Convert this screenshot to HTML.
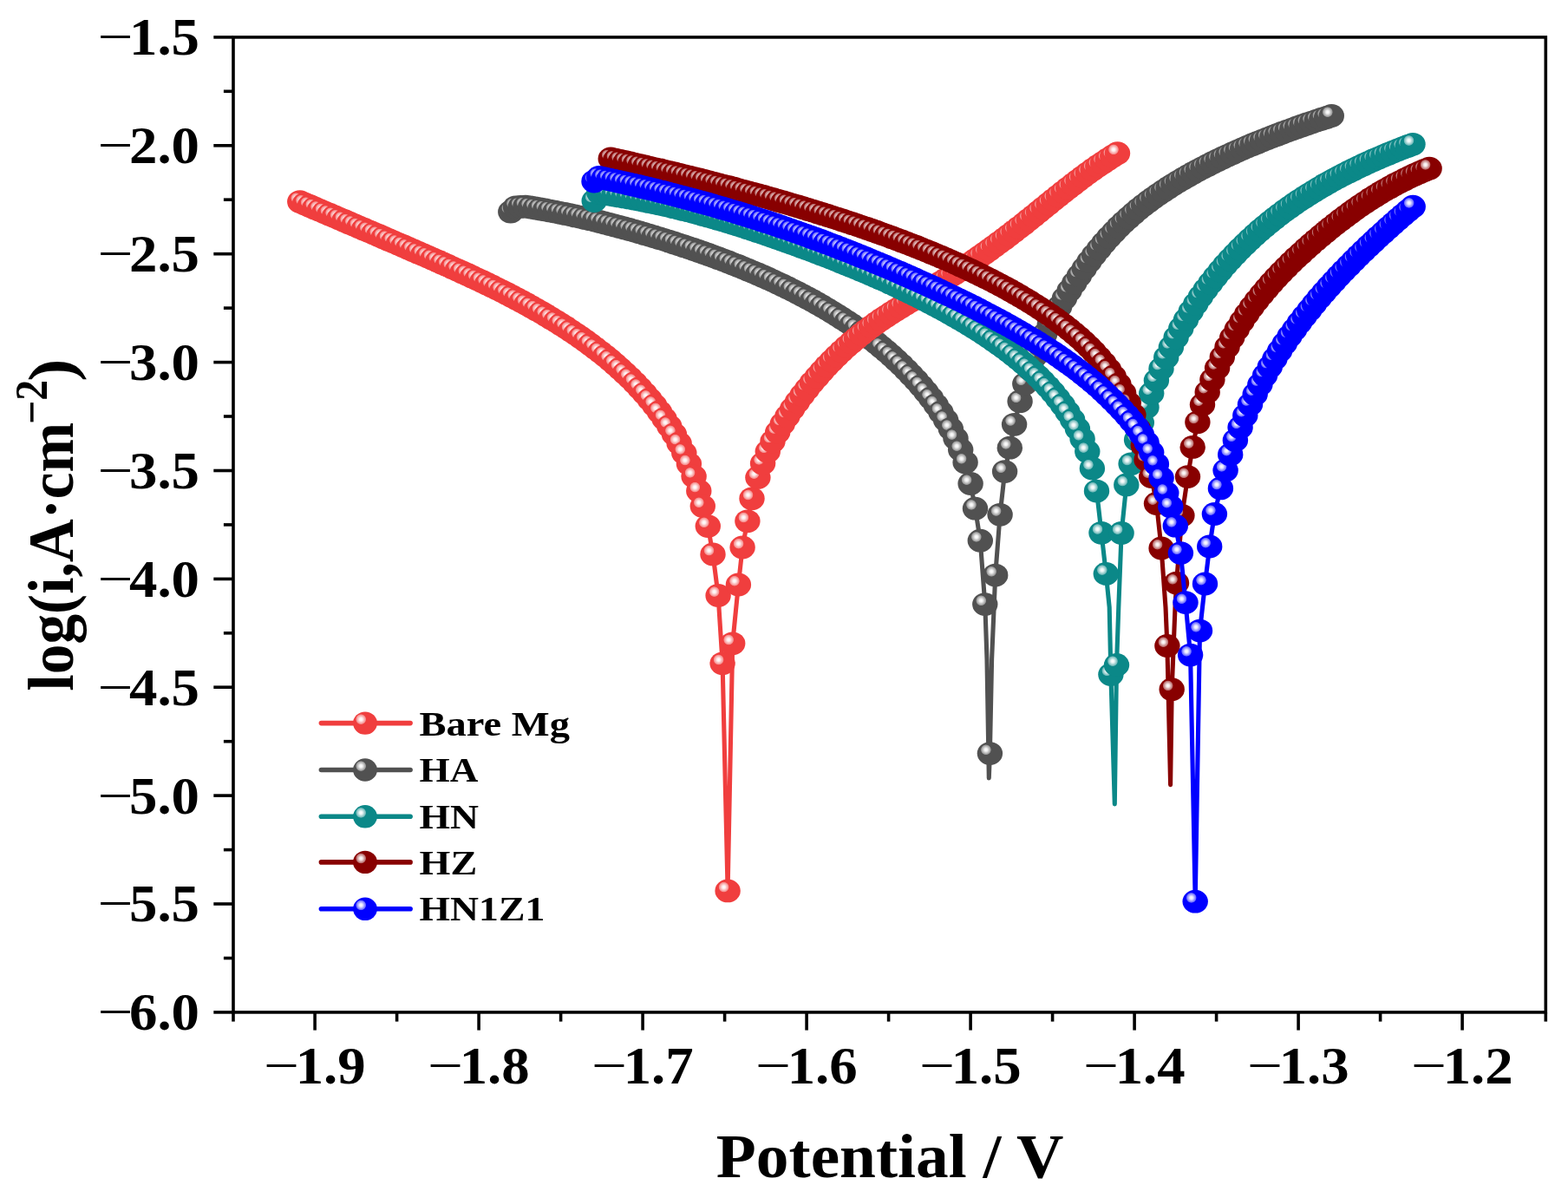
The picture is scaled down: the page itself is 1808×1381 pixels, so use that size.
<!DOCTYPE html>
<html lang="en"><head><meta charset="utf-8"><title>Potentiodynamic polarization curves</title>
<style>html,body{margin:0;padding:0;background:#fff;overflow:hidden}svg{display:block}text{font-family:"Liberation Serif","DejaVu Serif",serif;font-weight:bold;fill:#000}</style></head><body>
<svg width="1808" height="1381" viewBox="0 0 1808 1381">
<defs>
<radialGradient id="hl" cx="0.5" cy="0.5" r="0.5"><stop offset="0" stop-color="#fff" stop-opacity="1"/><stop offset="0.28" stop-color="#fff" stop-opacity="0.92"/><stop offset="0.58" stop-color="#fff" stop-opacity="0.66"/><stop offset="0.85" stop-color="#fff" stop-opacity="0.42"/><stop offset="1" stop-color="#fff" stop-opacity="0"/></radialGradient>
<g id="m_gray"><ellipse rx="14.7" ry="13.4" fill="#515151"/><circle cx="-4.5" cy="-4.3" r="6.2" fill="url(#hl)"/></g>
<g id="m_red"><ellipse rx="14.7" ry="13.4" fill="#f03e3e"/><circle cx="-4.5" cy="-4.3" r="6.2" fill="url(#hl)"/></g>
<g id="m_teal"><ellipse rx="14.7" ry="13.4" fill="#0b8888"/><circle cx="-4.5" cy="-4.3" r="6.2" fill="url(#hl)"/></g>
<g id="m_dred"><ellipse rx="14.7" ry="13.4" fill="#880000"/><circle cx="-4.5" cy="-4.3" r="6.2" fill="url(#hl)"/></g>
<g id="m_blue"><ellipse rx="14.7" ry="13.4" fill="#0000ff"/><circle cx="-4.5" cy="-4.3" r="6.2" fill="url(#hl)"/></g>
<g id="l_gray"><ellipse rx="13.9" ry="13.2" fill="#515151"/><circle cx="-4.8" cy="-4.4" r="6.2" fill="url(#hl)"/></g>
<g id="l_red"><ellipse rx="13.9" ry="13.2" fill="#f03e3e"/><circle cx="-4.8" cy="-4.4" r="6.2" fill="url(#hl)"/></g>
<g id="l_teal"><ellipse rx="13.9" ry="13.2" fill="#0b8888"/><circle cx="-4.8" cy="-4.4" r="6.2" fill="url(#hl)"/></g>
<g id="l_dred"><ellipse rx="13.9" ry="13.2" fill="#880000"/><circle cx="-4.8" cy="-4.4" r="6.2" fill="url(#hl)"/></g>
<g id="l_blue"><ellipse rx="13.9" ry="13.2" fill="#0000ff"/><circle cx="-4.8" cy="-4.4" r="6.2" fill="url(#hl)"/></g>
</defs>
<rect width="1808" height="1381" fill="#fff"/>
<g id="curve_gray">
<polyline fill="none" stroke="#515151" stroke-width="5.1" stroke-linejoin="round" stroke-linecap="round" points="588.8,244.2 594.5,238.8 600.2,238.4 605.9,238.1 611.6,239 617.3,240 623,241 628.7,242 634.4,243.1 640.1,244.2 645.8,245.3 651.5,246.4 657.2,247.6 662.9,248.9 668.6,250.1 674.3,251.4 680,252.7 685.7,254.1 691.4,255.5 697.1,256.9 702.8,258.4 708.5,259.9 714.2,261.4 719.9,262.9 725.6,264.5 731.3,266.1 737,267.7 742.7,269.4 748.5,271.1 754.2,272.8 759.9,274.6 765.6,276.3 771.3,278.1 777,279.9 782.7,281.8 788.4,283.7 794.1,285.6 799.8,287.5 805.5,289.5 811.2,291.5 816.9,293.5 822.6,295.6 828.3,297.7 834,299.8 839.7,302 845.4,304.3 851.1,306.5 856.8,308.8 862.5,311.2 868.2,313.6 873.9,316 879.6,318.5 885.3,321 891,323.6 896.7,326.3 902.4,329 908.1,331.7 913.8,334.6 919.5,337.5 925.2,340.4 930.9,343.4 936.6,346.5 942.3,349.7 948,353 953.7,356.3 959.4,359.8 965.1,363.3 970.8,366.9 976.5,370.6 982.2,374.5 987.9,378.4 993.6,382.5 999.3,386.7 1005,391.1 1010.7,395.6 1016.4,400.2 1022.1,405 1027.8,410 1033.5,415.2 1039.2,420.6 1044.9,426.3 1050.6,432.2 1056.3,438.3 1062,444.8 1067.8,451.7 1073.5,459 1079.2,466.8 1084.9,475.2 1090.6,484.3 1096.3,494.3 1102,505.4 1107.7,518.5 1113.1,533.1 1119.1,557.5 1124.5,586.2 1130.3,623.2 1135.8,696.6 1138,760 1140.3,897 1141.4,868.6 1143.6,760 1147.7,663.1 1153.1,593.3 1158.6,543.6 1164.3,516.2 1169.6,489.3 1176.1,462.7 1181.8,442.6 1187.5,425.5 1193.2,410.7 1198.9,397.4 1204.6,385.3 1210.3,374.1 1216,363.6 1221.7,353.6 1227.4,344.1 1233.1,335 1238.8,326.2 1244.5,317.7 1250.2,309.5 1255.9,301.6 1261.6,294.1 1267.3,286.9 1273,280.1 1278.7,273.6 1284.4,267.5 1290.1,261.6 1295.8,256.1 1301.5,250.9 1307.2,245.9 1312.9,241.1 1318.6,236.6 1324.3,232.2 1330,228.1 1335.7,224.1 1341.4,220.2 1347.1,216.5 1352.8,212.8 1358.5,209.3 1364.2,205.9 1369.9,202.7 1375.6,199.5 1381.4,196.3 1387.1,193.3 1392.8,190.4 1398.5,187.5 1404.2,184.7 1409.9,181.9 1415.6,179.3 1421.3,176.7 1427,174.1 1432.7,171.6 1438.4,169.1 1444.1,166.7 1449.8,164.4 1455.5,162.1 1461.2,159.8 1466.9,157.6 1472.6,155.4 1478.3,153.2 1484,151.1 1489.7,149.1 1495.4,147 1501.1,145 1506.8,143 1512.5,141.1 1518.2,139.1 1523.9,137.2 1529.6,135.4 1535.3,133.5"/>
<use href="#m_gray" x="588.8" y="244.2"/>
<use href="#m_gray" x="594.5" y="238.8"/>
<use href="#m_gray" x="600.2" y="238.4"/>
<use href="#m_gray" x="605.9" y="238.1"/>
<use href="#m_gray" x="611.6" y="239"/>
<use href="#m_gray" x="617.3" y="240"/>
<use href="#m_gray" x="623" y="241"/>
<use href="#m_gray" x="628.7" y="242"/>
<use href="#m_gray" x="634.4" y="243.1"/>
<use href="#m_gray" x="640.1" y="244.2"/>
<use href="#m_gray" x="645.8" y="245.3"/>
<use href="#m_gray" x="651.5" y="246.4"/>
<use href="#m_gray" x="657.2" y="247.6"/>
<use href="#m_gray" x="662.9" y="248.9"/>
<use href="#m_gray" x="668.6" y="250.1"/>
<use href="#m_gray" x="674.3" y="251.4"/>
<use href="#m_gray" x="680" y="252.7"/>
<use href="#m_gray" x="685.7" y="254.1"/>
<use href="#m_gray" x="691.4" y="255.5"/>
<use href="#m_gray" x="697.1" y="256.9"/>
<use href="#m_gray" x="702.8" y="258.4"/>
<use href="#m_gray" x="708.5" y="259.9"/>
<use href="#m_gray" x="714.2" y="261.4"/>
<use href="#m_gray" x="719.9" y="262.9"/>
<use href="#m_gray" x="725.6" y="264.5"/>
<use href="#m_gray" x="731.3" y="266.1"/>
<use href="#m_gray" x="737" y="267.7"/>
<use href="#m_gray" x="742.7" y="269.4"/>
<use href="#m_gray" x="748.5" y="271.1"/>
<use href="#m_gray" x="754.2" y="272.8"/>
<use href="#m_gray" x="759.9" y="274.6"/>
<use href="#m_gray" x="765.6" y="276.3"/>
<use href="#m_gray" x="771.3" y="278.1"/>
<use href="#m_gray" x="777" y="279.9"/>
<use href="#m_gray" x="782.7" y="281.8"/>
<use href="#m_gray" x="788.4" y="283.7"/>
<use href="#m_gray" x="794.1" y="285.6"/>
<use href="#m_gray" x="799.8" y="287.5"/>
<use href="#m_gray" x="805.5" y="289.5"/>
<use href="#m_gray" x="811.2" y="291.5"/>
<use href="#m_gray" x="816.9" y="293.5"/>
<use href="#m_gray" x="822.6" y="295.6"/>
<use href="#m_gray" x="828.3" y="297.7"/>
<use href="#m_gray" x="834" y="299.8"/>
<use href="#m_gray" x="839.7" y="302"/>
<use href="#m_gray" x="845.4" y="304.3"/>
<use href="#m_gray" x="851.1" y="306.5"/>
<use href="#m_gray" x="856.8" y="308.8"/>
<use href="#m_gray" x="862.5" y="311.2"/>
<use href="#m_gray" x="868.2" y="313.6"/>
<use href="#m_gray" x="873.9" y="316"/>
<use href="#m_gray" x="879.6" y="318.5"/>
<use href="#m_gray" x="885.3" y="321"/>
<use href="#m_gray" x="891" y="323.6"/>
<use href="#m_gray" x="896.7" y="326.3"/>
<use href="#m_gray" x="902.4" y="329"/>
<use href="#m_gray" x="908.1" y="331.7"/>
<use href="#m_gray" x="913.8" y="334.6"/>
<use href="#m_gray" x="919.5" y="337.5"/>
<use href="#m_gray" x="925.2" y="340.4"/>
<use href="#m_gray" x="930.9" y="343.4"/>
<use href="#m_gray" x="936.6" y="346.5"/>
<use href="#m_gray" x="942.3" y="349.7"/>
<use href="#m_gray" x="948" y="353"/>
<use href="#m_gray" x="953.7" y="356.3"/>
<use href="#m_gray" x="959.4" y="359.8"/>
<use href="#m_gray" x="965.1" y="363.3"/>
<use href="#m_gray" x="970.8" y="366.9"/>
<use href="#m_gray" x="976.5" y="370.6"/>
<use href="#m_gray" x="982.2" y="374.5"/>
<use href="#m_gray" x="987.9" y="378.4"/>
<use href="#m_gray" x="993.6" y="382.5"/>
<use href="#m_gray" x="999.3" y="386.7"/>
<use href="#m_gray" x="1005" y="391.1"/>
<use href="#m_gray" x="1010.7" y="395.6"/>
<use href="#m_gray" x="1016.4" y="400.2"/>
<use href="#m_gray" x="1022.1" y="405"/>
<use href="#m_gray" x="1027.8" y="410"/>
<use href="#m_gray" x="1033.5" y="415.2"/>
<use href="#m_gray" x="1039.2" y="420.6"/>
<use href="#m_gray" x="1044.9" y="426.3"/>
<use href="#m_gray" x="1050.6" y="432.2"/>
<use href="#m_gray" x="1056.3" y="438.3"/>
<use href="#m_gray" x="1062" y="444.8"/>
<use href="#m_gray" x="1067.8" y="451.7"/>
<use href="#m_gray" x="1073.5" y="459"/>
<use href="#m_gray" x="1079.2" y="466.8"/>
<use href="#m_gray" x="1084.9" y="475.2"/>
<use href="#m_gray" x="1090.6" y="484.3"/>
<use href="#m_gray" x="1096.3" y="494.3"/>
<use href="#m_gray" x="1102" y="505.4"/>
<use href="#m_gray" x="1107.7" y="518.5"/>
<use href="#m_gray" x="1113.1" y="533.1"/>
<use href="#m_gray" x="1119.1" y="557.5"/>
<use href="#m_gray" x="1124.5" y="586.2"/>
<use href="#m_gray" x="1130.3" y="623.2"/>
<use href="#m_gray" x="1135.8" y="696.6"/>
<use href="#m_gray" x="1141.4" y="868.6"/>
<use href="#m_gray" x="1147.7" y="663.1"/>
<use href="#m_gray" x="1153.1" y="593.3"/>
<use href="#m_gray" x="1158.6" y="543.6"/>
<use href="#m_gray" x="1164.3" y="516.2"/>
<use href="#m_gray" x="1169.6" y="489.3"/>
<use href="#m_gray" x="1176.1" y="462.7"/>
<use href="#m_gray" x="1181.8" y="442.6"/>
<use href="#m_gray" x="1187.5" y="425.5"/>
<use href="#m_gray" x="1193.2" y="410.7"/>
<use href="#m_gray" x="1198.9" y="397.4"/>
<use href="#m_gray" x="1204.6" y="385.3"/>
<use href="#m_gray" x="1210.3" y="374.1"/>
<use href="#m_gray" x="1216" y="363.6"/>
<use href="#m_gray" x="1221.7" y="353.6"/>
<use href="#m_gray" x="1227.4" y="344.1"/>
<use href="#m_gray" x="1233.1" y="335"/>
<use href="#m_gray" x="1238.8" y="326.2"/>
<use href="#m_gray" x="1244.5" y="317.7"/>
<use href="#m_gray" x="1250.2" y="309.5"/>
<use href="#m_gray" x="1255.9" y="301.6"/>
<use href="#m_gray" x="1261.6" y="294.1"/>
<use href="#m_gray" x="1267.3" y="286.9"/>
<use href="#m_gray" x="1273" y="280.1"/>
<use href="#m_gray" x="1278.7" y="273.6"/>
<use href="#m_gray" x="1284.4" y="267.5"/>
<use href="#m_gray" x="1290.1" y="261.6"/>
<use href="#m_gray" x="1295.8" y="256.1"/>
<use href="#m_gray" x="1301.5" y="250.9"/>
<use href="#m_gray" x="1307.2" y="245.9"/>
<use href="#m_gray" x="1312.9" y="241.1"/>
<use href="#m_gray" x="1318.6" y="236.6"/>
<use href="#m_gray" x="1324.3" y="232.2"/>
<use href="#m_gray" x="1330" y="228.1"/>
<use href="#m_gray" x="1335.7" y="224.1"/>
<use href="#m_gray" x="1341.4" y="220.2"/>
<use href="#m_gray" x="1347.1" y="216.5"/>
<use href="#m_gray" x="1352.8" y="212.8"/>
<use href="#m_gray" x="1358.5" y="209.3"/>
<use href="#m_gray" x="1364.2" y="205.9"/>
<use href="#m_gray" x="1369.9" y="202.7"/>
<use href="#m_gray" x="1375.6" y="199.5"/>
<use href="#m_gray" x="1381.4" y="196.3"/>
<use href="#m_gray" x="1387.1" y="193.3"/>
<use href="#m_gray" x="1392.8" y="190.4"/>
<use href="#m_gray" x="1398.5" y="187.5"/>
<use href="#m_gray" x="1404.2" y="184.7"/>
<use href="#m_gray" x="1409.9" y="181.9"/>
<use href="#m_gray" x="1415.6" y="179.3"/>
<use href="#m_gray" x="1421.3" y="176.7"/>
<use href="#m_gray" x="1427" y="174.1"/>
<use href="#m_gray" x="1432.7" y="171.6"/>
<use href="#m_gray" x="1438.4" y="169.1"/>
<use href="#m_gray" x="1444.1" y="166.7"/>
<use href="#m_gray" x="1449.8" y="164.4"/>
<use href="#m_gray" x="1455.5" y="162.1"/>
<use href="#m_gray" x="1461.2" y="159.8"/>
<use href="#m_gray" x="1466.9" y="157.6"/>
<use href="#m_gray" x="1472.6" y="155.4"/>
<use href="#m_gray" x="1478.3" y="153.2"/>
<use href="#m_gray" x="1484" y="151.1"/>
<use href="#m_gray" x="1489.7" y="149.1"/>
<use href="#m_gray" x="1495.4" y="147"/>
<use href="#m_gray" x="1501.1" y="145"/>
<use href="#m_gray" x="1506.8" y="143"/>
<use href="#m_gray" x="1512.5" y="141.1"/>
<use href="#m_gray" x="1518.2" y="139.1"/>
<use href="#m_gray" x="1523.9" y="137.2"/>
<use href="#m_gray" x="1529.6" y="135.4"/>
<use href="#m_gray" x="1535.3" y="133.5"/>
</g>
<g id="curve_red">
<polyline fill="none" stroke="#f03e3e" stroke-width="5.1" stroke-linejoin="round" stroke-linecap="round" points="345.8,232.6 351.5,235.1 357.2,237.5 362.8,239.9 368.5,242.3 374.2,244.8 379.9,247.2 385.6,249.6 391.2,252.1 396.9,254.5 402.6,256.9 408.3,259.3 413.9,261.8 419.6,264.2 425.3,266.6 431,269.1 436.7,271.5 442.3,273.9 448,276.4 453.7,278.8 459.4,281.3 465.1,283.7 470.7,286.2 476.4,288.7 482.1,291.2 487.8,293.6 493.5,296.1 499.1,298.6 504.8,301.1 510.5,303.7 516.2,306.2 521.8,308.8 527.5,311.3 533.2,313.9 538.9,316.5 544.6,319.2 550.2,321.8 555.9,324.5 561.6,327.2 567.3,330 573,332.8 578.6,335.6 584.3,338.5 590,341.4 595.7,344.4 601.4,347.4 607,350.5 612.7,353.7 618.4,356.9 624.1,360.1 629.7,363.5 635.4,366.9 641.1,370.3 646.8,373.9 652.5,377.5 658.1,381.3 663.8,385.1 669.5,389 675.2,393 680.9,397.2 686.5,401.4 692.2,405.8 697.9,410.3 703.6,415 709.3,419.9 714.9,424.9 720.6,430.2 726.3,435.6 732,441.3 737.6,447.3 743.3,453.6 749,460.2 754.7,467.2 760.4,474.7 766,482.7 771.7,491.3 777.4,500.6 783.1,510.9 788.8,522.2 794.4,534.8 800.1,549.2 805.8,565.9 810.3,583.6 816.3,606.6 822,638.9 828.1,686.4 833.1,764.8 839.1,1026.9 844.7,741.8 851.4,674 856.1,631 861.9,600.8 867,574.8 873.9,550.5 879.6,534.2 885.3,520.6 891,508.8 896.7,498.3 902.3,488.6 908,479.7 913.7,471.3 919.4,463.2 925,455.5 930.7,448.2 936.4,441.1 942.1,434.4 947.8,428 953.4,421.8 959.1,415.9 964.8,410.3 970.5,404.8 976.2,399.6 981.8,394.7 987.5,389.9 993.2,385.3 998.9,380.8 1004.6,376.6 1010.2,372.5 1015.9,368.5 1021.6,364.7 1027.3,361 1032.9,357.4 1038.6,353.9 1044.3,350.4 1050,346.9 1055.7,343.5 1061.3,340 1067,336.6 1072.7,333.1 1078.4,329.6 1084.1,326 1089.7,322.5 1095.4,318.8 1101.1,315.2 1106.8,311.4 1112.5,307.7 1118.1,303.8 1123.8,299.9 1129.5,296 1135.2,292 1140.8,287.9 1146.5,283.8 1152.2,279.6 1157.9,275.4 1163.6,271.1 1169.2,266.8 1174.9,262.3 1180.6,257.9 1186.3,253.3 1192,248.8 1197.6,244.2 1203.3,239.6 1209,234.9 1214.7,230.3 1220.4,225.8 1226,221.3 1231.7,216.8 1237.4,212.4 1243.1,208.1 1248.7,203.8 1254.4,199.6 1260.1,195.5 1265.8,191.5 1271.5,187.7 1277.1,183.9 1282.8,180.2 1288.5,176.7"/>
<use href="#m_red" x="345.8" y="232.6"/>
<use href="#m_red" x="351.5" y="235.1"/>
<use href="#m_red" x="357.2" y="237.5"/>
<use href="#m_red" x="362.8" y="239.9"/>
<use href="#m_red" x="368.5" y="242.3"/>
<use href="#m_red" x="374.2" y="244.8"/>
<use href="#m_red" x="379.9" y="247.2"/>
<use href="#m_red" x="385.6" y="249.6"/>
<use href="#m_red" x="391.2" y="252.1"/>
<use href="#m_red" x="396.9" y="254.5"/>
<use href="#m_red" x="402.6" y="256.9"/>
<use href="#m_red" x="408.3" y="259.3"/>
<use href="#m_red" x="413.9" y="261.8"/>
<use href="#m_red" x="419.6" y="264.2"/>
<use href="#m_red" x="425.3" y="266.6"/>
<use href="#m_red" x="431" y="269.1"/>
<use href="#m_red" x="436.7" y="271.5"/>
<use href="#m_red" x="442.3" y="273.9"/>
<use href="#m_red" x="448" y="276.4"/>
<use href="#m_red" x="453.7" y="278.8"/>
<use href="#m_red" x="459.4" y="281.3"/>
<use href="#m_red" x="465.1" y="283.7"/>
<use href="#m_red" x="470.7" y="286.2"/>
<use href="#m_red" x="476.4" y="288.7"/>
<use href="#m_red" x="482.1" y="291.2"/>
<use href="#m_red" x="487.8" y="293.6"/>
<use href="#m_red" x="493.5" y="296.1"/>
<use href="#m_red" x="499.1" y="298.6"/>
<use href="#m_red" x="504.8" y="301.1"/>
<use href="#m_red" x="510.5" y="303.7"/>
<use href="#m_red" x="516.2" y="306.2"/>
<use href="#m_red" x="521.8" y="308.8"/>
<use href="#m_red" x="527.5" y="311.3"/>
<use href="#m_red" x="533.2" y="313.9"/>
<use href="#m_red" x="538.9" y="316.5"/>
<use href="#m_red" x="544.6" y="319.2"/>
<use href="#m_red" x="550.2" y="321.8"/>
<use href="#m_red" x="555.9" y="324.5"/>
<use href="#m_red" x="561.6" y="327.2"/>
<use href="#m_red" x="567.3" y="330"/>
<use href="#m_red" x="573" y="332.8"/>
<use href="#m_red" x="578.6" y="335.6"/>
<use href="#m_red" x="584.3" y="338.5"/>
<use href="#m_red" x="590" y="341.4"/>
<use href="#m_red" x="595.7" y="344.4"/>
<use href="#m_red" x="601.4" y="347.4"/>
<use href="#m_red" x="607" y="350.5"/>
<use href="#m_red" x="612.7" y="353.7"/>
<use href="#m_red" x="618.4" y="356.9"/>
<use href="#m_red" x="624.1" y="360.1"/>
<use href="#m_red" x="629.7" y="363.5"/>
<use href="#m_red" x="635.4" y="366.9"/>
<use href="#m_red" x="641.1" y="370.3"/>
<use href="#m_red" x="646.8" y="373.9"/>
<use href="#m_red" x="652.5" y="377.5"/>
<use href="#m_red" x="658.1" y="381.3"/>
<use href="#m_red" x="663.8" y="385.1"/>
<use href="#m_red" x="669.5" y="389"/>
<use href="#m_red" x="675.2" y="393"/>
<use href="#m_red" x="680.9" y="397.2"/>
<use href="#m_red" x="686.5" y="401.4"/>
<use href="#m_red" x="692.2" y="405.8"/>
<use href="#m_red" x="697.9" y="410.3"/>
<use href="#m_red" x="703.6" y="415"/>
<use href="#m_red" x="709.3" y="419.9"/>
<use href="#m_red" x="714.9" y="424.9"/>
<use href="#m_red" x="720.6" y="430.2"/>
<use href="#m_red" x="726.3" y="435.6"/>
<use href="#m_red" x="732" y="441.3"/>
<use href="#m_red" x="737.6" y="447.3"/>
<use href="#m_red" x="743.3" y="453.6"/>
<use href="#m_red" x="749" y="460.2"/>
<use href="#m_red" x="754.7" y="467.2"/>
<use href="#m_red" x="760.4" y="474.7"/>
<use href="#m_red" x="766" y="482.7"/>
<use href="#m_red" x="771.7" y="491.3"/>
<use href="#m_red" x="777.4" y="500.6"/>
<use href="#m_red" x="783.1" y="510.9"/>
<use href="#m_red" x="788.8" y="522.2"/>
<use href="#m_red" x="794.4" y="534.8"/>
<use href="#m_red" x="800.1" y="549.2"/>
<use href="#m_red" x="805.8" y="565.9"/>
<use href="#m_red" x="810.3" y="583.6"/>
<use href="#m_red" x="816.3" y="606.6"/>
<use href="#m_red" x="822" y="638.9"/>
<use href="#m_red" x="828.1" y="686.4"/>
<use href="#m_red" x="833.1" y="764.8"/>
<use href="#m_red" x="839.1" y="1026.9"/>
<use href="#m_red" x="844.7" y="741.8"/>
<use href="#m_red" x="851.4" y="674"/>
<use href="#m_red" x="856.1" y="631"/>
<use href="#m_red" x="861.9" y="600.8"/>
<use href="#m_red" x="867" y="574.8"/>
<use href="#m_red" x="873.9" y="550.5"/>
<use href="#m_red" x="879.6" y="534.2"/>
<use href="#m_red" x="885.3" y="520.6"/>
<use href="#m_red" x="891" y="508.8"/>
<use href="#m_red" x="896.7" y="498.3"/>
<use href="#m_red" x="902.3" y="488.6"/>
<use href="#m_red" x="908" y="479.7"/>
<use href="#m_red" x="913.7" y="471.3"/>
<use href="#m_red" x="919.4" y="463.2"/>
<use href="#m_red" x="925" y="455.5"/>
<use href="#m_red" x="930.7" y="448.2"/>
<use href="#m_red" x="936.4" y="441.1"/>
<use href="#m_red" x="942.1" y="434.4"/>
<use href="#m_red" x="947.8" y="428"/>
<use href="#m_red" x="953.4" y="421.8"/>
<use href="#m_red" x="959.1" y="415.9"/>
<use href="#m_red" x="964.8" y="410.3"/>
<use href="#m_red" x="970.5" y="404.8"/>
<use href="#m_red" x="976.2" y="399.6"/>
<use href="#m_red" x="981.8" y="394.7"/>
<use href="#m_red" x="987.5" y="389.9"/>
<use href="#m_red" x="993.2" y="385.3"/>
<use href="#m_red" x="998.9" y="380.8"/>
<use href="#m_red" x="1004.6" y="376.6"/>
<use href="#m_red" x="1010.2" y="372.5"/>
<use href="#m_red" x="1015.9" y="368.5"/>
<use href="#m_red" x="1021.6" y="364.7"/>
<use href="#m_red" x="1027.3" y="361"/>
<use href="#m_red" x="1032.9" y="357.4"/>
<use href="#m_red" x="1038.6" y="353.9"/>
<use href="#m_red" x="1044.3" y="350.4"/>
<use href="#m_red" x="1050" y="346.9"/>
<use href="#m_red" x="1055.7" y="343.5"/>
<use href="#m_red" x="1061.3" y="340"/>
<use href="#m_red" x="1067" y="336.6"/>
<use href="#m_red" x="1072.7" y="333.1"/>
<use href="#m_red" x="1078.4" y="329.6"/>
<use href="#m_red" x="1084.1" y="326"/>
<use href="#m_red" x="1089.7" y="322.5"/>
<use href="#m_red" x="1095.4" y="318.8"/>
<use href="#m_red" x="1101.1" y="315.2"/>
<use href="#m_red" x="1106.8" y="311.4"/>
<use href="#m_red" x="1112.5" y="307.7"/>
<use href="#m_red" x="1118.1" y="303.8"/>
<use href="#m_red" x="1123.8" y="299.9"/>
<use href="#m_red" x="1129.5" y="296"/>
<use href="#m_red" x="1135.2" y="292"/>
<use href="#m_red" x="1140.8" y="287.9"/>
<use href="#m_red" x="1146.5" y="283.8"/>
<use href="#m_red" x="1152.2" y="279.6"/>
<use href="#m_red" x="1157.9" y="275.4"/>
<use href="#m_red" x="1163.6" y="271.1"/>
<use href="#m_red" x="1169.2" y="266.8"/>
<use href="#m_red" x="1174.9" y="262.3"/>
<use href="#m_red" x="1180.6" y="257.9"/>
<use href="#m_red" x="1186.3" y="253.3"/>
<use href="#m_red" x="1192" y="248.8"/>
<use href="#m_red" x="1197.6" y="244.2"/>
<use href="#m_red" x="1203.3" y="239.6"/>
<use href="#m_red" x="1209" y="234.9"/>
<use href="#m_red" x="1214.7" y="230.3"/>
<use href="#m_red" x="1220.4" y="225.8"/>
<use href="#m_red" x="1226" y="221.3"/>
<use href="#m_red" x="1231.7" y="216.8"/>
<use href="#m_red" x="1237.4" y="212.4"/>
<use href="#m_red" x="1243.1" y="208.1"/>
<use href="#m_red" x="1248.7" y="203.8"/>
<use href="#m_red" x="1254.4" y="199.6"/>
<use href="#m_red" x="1260.1" y="195.5"/>
<use href="#m_red" x="1265.8" y="191.5"/>
<use href="#m_red" x="1271.5" y="187.7"/>
<use href="#m_red" x="1277.1" y="183.9"/>
<use href="#m_red" x="1282.8" y="180.2"/>
<use href="#m_red" x="1288.5" y="176.7"/>
</g>
<g id="curve_teal">
<polyline fill="none" stroke="#0b8888" stroke-width="5.1" stroke-linejoin="round" stroke-linecap="round" points="685.2,231.5 690.9,222.3 696.6,223.2 702.3,224.1 707.9,225 713.6,225.9 719.3,226.9 725,227.9 730.7,229 736.4,230.1 742.1,231.2 747.7,232.4 753.4,233.5 759.1,234.8 764.8,236 770.5,237.3 776.2,238.7 781.9,240 787.5,241.4 793.2,242.8 798.9,244.3 804.6,245.8 810.3,247.4 816,248.9 821.7,250.5 827.3,252.2 833,253.8 838.7,255.5 844.4,257.3 850.1,259 855.8,260.8 861.5,262.7 867.1,264.5 872.8,266.4 878.5,268.3 884.2,270.2 889.9,272.2 895.6,274.2 901.3,276.2 906.9,278.2 912.6,280.2 918.3,282.3 924,284.4 929.7,286.5 935.4,288.6 941,290.8 946.7,292.9 952.4,295.1 958.1,297.3 963.8,299.6 969.5,301.9 975.2,304.2 980.8,306.5 986.5,308.8 992.2,311.2 997.9,313.6 1003.6,316.1 1009.3,318.6 1015,321.1 1020.6,323.6 1026.3,326.2 1032,328.8 1037.7,331.5 1043.4,334.2 1049.1,337 1054.8,339.7 1060.4,342.6 1066.1,345.5 1071.8,348.4 1077.5,351.4 1083.2,354.4 1088.9,357.5 1094.6,360.7 1100.2,363.9 1105.9,367.2 1111.6,370.5 1117.3,374 1123,377.5 1128.7,381.1 1134.4,384.8 1140,388.5 1145.7,392.4 1151.4,396.4 1157.1,400.5 1162.8,404.8 1168.5,409.2 1174.2,413.7 1179.8,418.5 1185.5,423.4 1191.2,428.6 1196.9,434 1202.6,439.7 1208.3,445.8 1214,452.2 1219.6,459.2 1225.3,466.7 1231,474.9 1236.7,484 1242.4,494.2 1248.1,506.1 1253.8,520.4 1259.4,540 1264.5,566.1 1270,614.3 1275.3,661.4 1279.2,700 1280.9,777.6 1285.3,926.9 1287.5,766.5 1289.8,700 1293.1,614.5 1298.8,558.9 1304.1,534.8 1310.6,507.1 1316.3,487.3 1322,469.6 1327.7,453.5 1333.4,438.6 1339,424.9 1344.7,412.1 1350.4,400.2 1356.1,389 1361.8,378.4 1367.5,368.5 1373.2,359.1 1378.8,350.2 1384.5,341.8 1390.2,333.8 1395.9,326.2 1401.6,318.9 1407.3,312 1412.9,305.3 1418.6,299 1424.3,292.9 1430,287 1435.7,281.4 1441.4,276 1447.1,270.7 1452.7,265.7 1458.4,260.9 1464.1,256.2 1469.8,251.7 1475.5,247.3 1481.2,243 1486.9,239 1492.5,235 1498.2,231.1 1503.9,227.4 1509.6,223.8 1515.3,220.3 1521,216.8 1526.7,213.5 1532.3,210.3 1538,207.1 1543.7,204.1 1549.4,201.1 1555.1,198.2 1560.8,195.4 1566.5,192.6 1572.1,189.9 1577.8,187.3 1583.5,184.7 1589.2,182.3 1594.9,179.8 1600.6,177.4 1606.3,175.1 1611.9,172.8 1617.6,170.6 1623.3,168.4 1629,166.3"/>
<use href="#m_teal" x="685.2" y="231.5"/>
<use href="#m_teal" x="690.9" y="222.3"/>
<use href="#m_teal" x="696.6" y="223.2"/>
<use href="#m_teal" x="702.3" y="224.1"/>
<use href="#m_teal" x="707.9" y="225"/>
<use href="#m_teal" x="713.6" y="225.9"/>
<use href="#m_teal" x="719.3" y="226.9"/>
<use href="#m_teal" x="725" y="227.9"/>
<use href="#m_teal" x="730.7" y="229"/>
<use href="#m_teal" x="736.4" y="230.1"/>
<use href="#m_teal" x="742.1" y="231.2"/>
<use href="#m_teal" x="747.7" y="232.4"/>
<use href="#m_teal" x="753.4" y="233.5"/>
<use href="#m_teal" x="759.1" y="234.8"/>
<use href="#m_teal" x="764.8" y="236"/>
<use href="#m_teal" x="770.5" y="237.3"/>
<use href="#m_teal" x="776.2" y="238.7"/>
<use href="#m_teal" x="781.9" y="240"/>
<use href="#m_teal" x="787.5" y="241.4"/>
<use href="#m_teal" x="793.2" y="242.8"/>
<use href="#m_teal" x="798.9" y="244.3"/>
<use href="#m_teal" x="804.6" y="245.8"/>
<use href="#m_teal" x="810.3" y="247.4"/>
<use href="#m_teal" x="816" y="248.9"/>
<use href="#m_teal" x="821.7" y="250.5"/>
<use href="#m_teal" x="827.3" y="252.2"/>
<use href="#m_teal" x="833" y="253.8"/>
<use href="#m_teal" x="838.7" y="255.5"/>
<use href="#m_teal" x="844.4" y="257.3"/>
<use href="#m_teal" x="850.1" y="259"/>
<use href="#m_teal" x="855.8" y="260.8"/>
<use href="#m_teal" x="861.5" y="262.7"/>
<use href="#m_teal" x="867.1" y="264.5"/>
<use href="#m_teal" x="872.8" y="266.4"/>
<use href="#m_teal" x="878.5" y="268.3"/>
<use href="#m_teal" x="884.2" y="270.2"/>
<use href="#m_teal" x="889.9" y="272.2"/>
<use href="#m_teal" x="895.6" y="274.2"/>
<use href="#m_teal" x="901.3" y="276.2"/>
<use href="#m_teal" x="906.9" y="278.2"/>
<use href="#m_teal" x="912.6" y="280.2"/>
<use href="#m_teal" x="918.3" y="282.3"/>
<use href="#m_teal" x="924" y="284.4"/>
<use href="#m_teal" x="929.7" y="286.5"/>
<use href="#m_teal" x="935.4" y="288.6"/>
<use href="#m_teal" x="941" y="290.8"/>
<use href="#m_teal" x="946.7" y="292.9"/>
<use href="#m_teal" x="952.4" y="295.1"/>
<use href="#m_teal" x="958.1" y="297.3"/>
<use href="#m_teal" x="963.8" y="299.6"/>
<use href="#m_teal" x="969.5" y="301.9"/>
<use href="#m_teal" x="975.2" y="304.2"/>
<use href="#m_teal" x="980.8" y="306.5"/>
<use href="#m_teal" x="986.5" y="308.8"/>
<use href="#m_teal" x="992.2" y="311.2"/>
<use href="#m_teal" x="997.9" y="313.6"/>
<use href="#m_teal" x="1003.6" y="316.1"/>
<use href="#m_teal" x="1009.3" y="318.6"/>
<use href="#m_teal" x="1015" y="321.1"/>
<use href="#m_teal" x="1020.6" y="323.6"/>
<use href="#m_teal" x="1026.3" y="326.2"/>
<use href="#m_teal" x="1032" y="328.8"/>
<use href="#m_teal" x="1037.7" y="331.5"/>
<use href="#m_teal" x="1043.4" y="334.2"/>
<use href="#m_teal" x="1049.1" y="337"/>
<use href="#m_teal" x="1054.8" y="339.7"/>
<use href="#m_teal" x="1060.4" y="342.6"/>
<use href="#m_teal" x="1066.1" y="345.5"/>
<use href="#m_teal" x="1071.8" y="348.4"/>
<use href="#m_teal" x="1077.5" y="351.4"/>
<use href="#m_teal" x="1083.2" y="354.4"/>
<use href="#m_teal" x="1088.9" y="357.5"/>
<use href="#m_teal" x="1094.6" y="360.7"/>
<use href="#m_teal" x="1100.2" y="363.9"/>
<use href="#m_teal" x="1105.9" y="367.2"/>
<use href="#m_teal" x="1111.6" y="370.5"/>
<use href="#m_teal" x="1117.3" y="374"/>
<use href="#m_teal" x="1123" y="377.5"/>
<use href="#m_teal" x="1128.7" y="381.1"/>
<use href="#m_teal" x="1134.4" y="384.8"/>
<use href="#m_teal" x="1140" y="388.5"/>
<use href="#m_teal" x="1145.7" y="392.4"/>
<use href="#m_teal" x="1151.4" y="396.4"/>
<use href="#m_teal" x="1157.1" y="400.5"/>
<use href="#m_teal" x="1162.8" y="404.8"/>
<use href="#m_teal" x="1168.5" y="409.2"/>
<use href="#m_teal" x="1174.2" y="413.7"/>
<use href="#m_teal" x="1179.8" y="418.5"/>
<use href="#m_teal" x="1185.5" y="423.4"/>
<use href="#m_teal" x="1191.2" y="428.6"/>
<use href="#m_teal" x="1196.9" y="434"/>
<use href="#m_teal" x="1202.6" y="439.7"/>
<use href="#m_teal" x="1208.3" y="445.8"/>
<use href="#m_teal" x="1214" y="452.2"/>
<use href="#m_teal" x="1219.6" y="459.2"/>
<use href="#m_teal" x="1225.3" y="466.7"/>
<use href="#m_teal" x="1231" y="474.9"/>
<use href="#m_teal" x="1236.7" y="484"/>
<use href="#m_teal" x="1242.4" y="494.2"/>
<use href="#m_teal" x="1248.1" y="506.1"/>
<use href="#m_teal" x="1253.8" y="520.4"/>
<use href="#m_teal" x="1259.4" y="540"/>
<use href="#m_teal" x="1264.5" y="566.1"/>
<use href="#m_teal" x="1270" y="614.3"/>
<use href="#m_teal" x="1275.3" y="661.4"/>
<use href="#m_teal" x="1280.9" y="777.6"/>
<use href="#m_teal" x="1287.5" y="766.5"/>
<use href="#m_teal" x="1293.1" y="614.5"/>
<use href="#m_teal" x="1298.8" y="558.9"/>
<use href="#m_teal" x="1304.1" y="534.8"/>
<use href="#m_teal" x="1310.6" y="507.1"/>
<use href="#m_teal" x="1316.3" y="487.3"/>
<use href="#m_teal" x="1322" y="469.6"/>
<use href="#m_teal" x="1327.7" y="453.5"/>
<use href="#m_teal" x="1333.4" y="438.6"/>
<use href="#m_teal" x="1339" y="424.9"/>
<use href="#m_teal" x="1344.7" y="412.1"/>
<use href="#m_teal" x="1350.4" y="400.2"/>
<use href="#m_teal" x="1356.1" y="389"/>
<use href="#m_teal" x="1361.8" y="378.4"/>
<use href="#m_teal" x="1367.5" y="368.5"/>
<use href="#m_teal" x="1373.2" y="359.1"/>
<use href="#m_teal" x="1378.8" y="350.2"/>
<use href="#m_teal" x="1384.5" y="341.8"/>
<use href="#m_teal" x="1390.2" y="333.8"/>
<use href="#m_teal" x="1395.9" y="326.2"/>
<use href="#m_teal" x="1401.6" y="318.9"/>
<use href="#m_teal" x="1407.3" y="312"/>
<use href="#m_teal" x="1412.9" y="305.3"/>
<use href="#m_teal" x="1418.6" y="299"/>
<use href="#m_teal" x="1424.3" y="292.9"/>
<use href="#m_teal" x="1430" y="287"/>
<use href="#m_teal" x="1435.7" y="281.4"/>
<use href="#m_teal" x="1441.4" y="276"/>
<use href="#m_teal" x="1447.1" y="270.7"/>
<use href="#m_teal" x="1452.7" y="265.7"/>
<use href="#m_teal" x="1458.4" y="260.9"/>
<use href="#m_teal" x="1464.1" y="256.2"/>
<use href="#m_teal" x="1469.8" y="251.7"/>
<use href="#m_teal" x="1475.5" y="247.3"/>
<use href="#m_teal" x="1481.2" y="243"/>
<use href="#m_teal" x="1486.9" y="239"/>
<use href="#m_teal" x="1492.5" y="235"/>
<use href="#m_teal" x="1498.2" y="231.1"/>
<use href="#m_teal" x="1503.9" y="227.4"/>
<use href="#m_teal" x="1509.6" y="223.8"/>
<use href="#m_teal" x="1515.3" y="220.3"/>
<use href="#m_teal" x="1521" y="216.8"/>
<use href="#m_teal" x="1526.7" y="213.5"/>
<use href="#m_teal" x="1532.3" y="210.3"/>
<use href="#m_teal" x="1538" y="207.1"/>
<use href="#m_teal" x="1543.7" y="204.1"/>
<use href="#m_teal" x="1549.4" y="201.1"/>
<use href="#m_teal" x="1555.1" y="198.2"/>
<use href="#m_teal" x="1560.8" y="195.4"/>
<use href="#m_teal" x="1566.5" y="192.6"/>
<use href="#m_teal" x="1572.1" y="189.9"/>
<use href="#m_teal" x="1577.8" y="187.3"/>
<use href="#m_teal" x="1583.5" y="184.7"/>
<use href="#m_teal" x="1589.2" y="182.3"/>
<use href="#m_teal" x="1594.9" y="179.8"/>
<use href="#m_teal" x="1600.6" y="177.4"/>
<use href="#m_teal" x="1606.3" y="175.1"/>
<use href="#m_teal" x="1611.9" y="172.8"/>
<use href="#m_teal" x="1617.6" y="170.6"/>
<use href="#m_teal" x="1623.3" y="168.4"/>
<use href="#m_teal" x="1629" y="166.3"/>
</g>
<g id="curve_dred">
<polyline fill="none" stroke="#880000" stroke-width="5.1" stroke-linejoin="round" stroke-linecap="round" points="704.2,182.9 709.9,184.2 715.6,185.5 721.3,186.7 726.9,188 732.6,189.3 738.3,190.6 744,191.9 749.7,193.3 755.4,194.6 761.1,195.9 766.7,197.3 772.4,198.6 778.1,200 783.8,201.4 789.5,202.8 795.2,204.2 800.9,205.6 806.6,207 812.2,208.4 817.9,209.9 823.6,211.3 829.3,212.8 835,214.3 840.7,215.7 846.4,217.2 852,218.8 857.7,220.3 863.4,221.8 869.1,223.4 874.8,224.9 880.5,226.5 886.2,228.1 891.8,229.7 897.5,231.4 903.2,233 908.9,234.6 914.6,236.3 920.3,238 926,239.7 931.6,241.4 937.3,243.2 943,244.9 948.7,246.7 954.4,248.5 960.1,250.3 965.8,252.1 971.4,254 977.1,255.8 982.8,257.7 988.5,259.6 994.2,261.6 999.9,263.5 1005.6,265.5 1011.3,267.5 1016.9,269.6 1022.6,271.6 1028.3,273.7 1034,275.8 1039.7,277.9 1045.4,280.1 1051.1,282.3 1056.7,284.5 1062.4,286.8 1068.1,289.1 1073.8,291.4 1079.5,293.8 1085.2,296.2 1090.9,298.6 1096.5,301.1 1102.2,303.6 1107.9,306.2 1113.6,308.8 1119.3,311.5 1125,314.2 1130.7,316.9 1136.3,319.8 1142,322.6 1147.7,325.6 1153.4,328.6 1159.1,331.6 1164.8,334.7 1170.5,337.9 1176.2,341.2 1181.8,344.6 1187.5,348 1193.2,351.6 1198.9,355.2 1204.6,359 1210.3,362.8 1216,366.8 1221.6,370.9 1227.3,375.2 1233,379.7 1238.7,384.4 1244.4,389.2 1250.1,394.4 1255.8,399.9 1261.4,405.7 1267.1,411.9 1272.8,418.6 1278.5,425.9 1284.2,433.9 1289.9,442.9 1295.6,453 1301.2,464.6 1306.9,478.3 1312.6,494.5 1318.3,513.5 1322,530 1327.7,549.5 1333.5,580.5 1339.1,632 1344,700 1345.9,744.5 1349.6,904.8 1351.2,794.7 1355,700 1356.5,672.1 1362.9,594.3 1369.5,549.6 1375.2,515.4 1380.9,486.8 1386.5,466.5 1392.2,452 1397.9,437.8 1403.6,424.3 1409.3,411.7 1415,400.1 1420.7,389.3 1426.3,379.5 1432,370.4 1437.7,362 1443.4,354 1449.1,346.6 1454.8,339.5 1460.5,332.7 1466.1,326.2 1471.8,320 1477.5,314 1483.2,308.2 1488.9,302.6 1494.6,297.1 1500.3,291.9 1505.9,286.7 1511.6,281.7 1517.3,276.8 1523,272 1528.7,267.2 1534.4,262.6 1540.1,258.1 1545.7,253.7 1551.4,249.4 1557.1,245.2 1562.8,241.1 1568.5,237.1 1574.2,233.3 1579.9,229.5 1585.6,225.9 1591.2,222.5 1596.9,219.1 1602.6,215.9 1608.3,212.7 1614,209.8 1619.7,206.9 1625.4,204.1 1631,201.5 1636.7,199 1642.4,196.5 1648.1,194.2"/>
<use href="#m_dred" x="704.2" y="182.9"/>
<use href="#m_dred" x="709.9" y="184.2"/>
<use href="#m_dred" x="715.6" y="185.5"/>
<use href="#m_dred" x="721.3" y="186.7"/>
<use href="#m_dred" x="726.9" y="188"/>
<use href="#m_dred" x="732.6" y="189.3"/>
<use href="#m_dred" x="738.3" y="190.6"/>
<use href="#m_dred" x="744" y="191.9"/>
<use href="#m_dred" x="749.7" y="193.3"/>
<use href="#m_dred" x="755.4" y="194.6"/>
<use href="#m_dred" x="761.1" y="195.9"/>
<use href="#m_dred" x="766.7" y="197.3"/>
<use href="#m_dred" x="772.4" y="198.6"/>
<use href="#m_dred" x="778.1" y="200"/>
<use href="#m_dred" x="783.8" y="201.4"/>
<use href="#m_dred" x="789.5" y="202.8"/>
<use href="#m_dred" x="795.2" y="204.2"/>
<use href="#m_dred" x="800.9" y="205.6"/>
<use href="#m_dred" x="806.6" y="207"/>
<use href="#m_dred" x="812.2" y="208.4"/>
<use href="#m_dred" x="817.9" y="209.9"/>
<use href="#m_dred" x="823.6" y="211.3"/>
<use href="#m_dred" x="829.3" y="212.8"/>
<use href="#m_dred" x="835" y="214.3"/>
<use href="#m_dred" x="840.7" y="215.7"/>
<use href="#m_dred" x="846.4" y="217.2"/>
<use href="#m_dred" x="852" y="218.8"/>
<use href="#m_dred" x="857.7" y="220.3"/>
<use href="#m_dred" x="863.4" y="221.8"/>
<use href="#m_dred" x="869.1" y="223.4"/>
<use href="#m_dred" x="874.8" y="224.9"/>
<use href="#m_dred" x="880.5" y="226.5"/>
<use href="#m_dred" x="886.2" y="228.1"/>
<use href="#m_dred" x="891.8" y="229.7"/>
<use href="#m_dred" x="897.5" y="231.4"/>
<use href="#m_dred" x="903.2" y="233"/>
<use href="#m_dred" x="908.9" y="234.6"/>
<use href="#m_dred" x="914.6" y="236.3"/>
<use href="#m_dred" x="920.3" y="238"/>
<use href="#m_dred" x="926" y="239.7"/>
<use href="#m_dred" x="931.6" y="241.4"/>
<use href="#m_dred" x="937.3" y="243.2"/>
<use href="#m_dred" x="943" y="244.9"/>
<use href="#m_dred" x="948.7" y="246.7"/>
<use href="#m_dred" x="954.4" y="248.5"/>
<use href="#m_dred" x="960.1" y="250.3"/>
<use href="#m_dred" x="965.8" y="252.1"/>
<use href="#m_dred" x="971.4" y="254"/>
<use href="#m_dred" x="977.1" y="255.8"/>
<use href="#m_dred" x="982.8" y="257.7"/>
<use href="#m_dred" x="988.5" y="259.6"/>
<use href="#m_dred" x="994.2" y="261.6"/>
<use href="#m_dred" x="999.9" y="263.5"/>
<use href="#m_dred" x="1005.6" y="265.5"/>
<use href="#m_dred" x="1011.3" y="267.5"/>
<use href="#m_dred" x="1016.9" y="269.6"/>
<use href="#m_dred" x="1022.6" y="271.6"/>
<use href="#m_dred" x="1028.3" y="273.7"/>
<use href="#m_dred" x="1034" y="275.8"/>
<use href="#m_dred" x="1039.7" y="277.9"/>
<use href="#m_dred" x="1045.4" y="280.1"/>
<use href="#m_dred" x="1051.1" y="282.3"/>
<use href="#m_dred" x="1056.7" y="284.5"/>
<use href="#m_dred" x="1062.4" y="286.8"/>
<use href="#m_dred" x="1068.1" y="289.1"/>
<use href="#m_dred" x="1073.8" y="291.4"/>
<use href="#m_dred" x="1079.5" y="293.8"/>
<use href="#m_dred" x="1085.2" y="296.2"/>
<use href="#m_dred" x="1090.9" y="298.6"/>
<use href="#m_dred" x="1096.5" y="301.1"/>
<use href="#m_dred" x="1102.2" y="303.6"/>
<use href="#m_dred" x="1107.9" y="306.2"/>
<use href="#m_dred" x="1113.6" y="308.8"/>
<use href="#m_dred" x="1119.3" y="311.5"/>
<use href="#m_dred" x="1125" y="314.2"/>
<use href="#m_dred" x="1130.7" y="316.9"/>
<use href="#m_dred" x="1136.3" y="319.8"/>
<use href="#m_dred" x="1142" y="322.6"/>
<use href="#m_dred" x="1147.7" y="325.6"/>
<use href="#m_dred" x="1153.4" y="328.6"/>
<use href="#m_dred" x="1159.1" y="331.6"/>
<use href="#m_dred" x="1164.8" y="334.7"/>
<use href="#m_dred" x="1170.5" y="337.9"/>
<use href="#m_dred" x="1176.2" y="341.2"/>
<use href="#m_dred" x="1181.8" y="344.6"/>
<use href="#m_dred" x="1187.5" y="348"/>
<use href="#m_dred" x="1193.2" y="351.6"/>
<use href="#m_dred" x="1198.9" y="355.2"/>
<use href="#m_dred" x="1204.6" y="359"/>
<use href="#m_dred" x="1210.3" y="362.8"/>
<use href="#m_dred" x="1216" y="366.8"/>
<use href="#m_dred" x="1221.6" y="370.9"/>
<use href="#m_dred" x="1227.3" y="375.2"/>
<use href="#m_dred" x="1233" y="379.7"/>
<use href="#m_dred" x="1238.7" y="384.4"/>
<use href="#m_dred" x="1244.4" y="389.2"/>
<use href="#m_dred" x="1250.1" y="394.4"/>
<use href="#m_dred" x="1255.8" y="399.9"/>
<use href="#m_dred" x="1261.4" y="405.7"/>
<use href="#m_dred" x="1267.1" y="411.9"/>
<use href="#m_dred" x="1272.8" y="418.6"/>
<use href="#m_dred" x="1278.5" y="425.9"/>
<use href="#m_dred" x="1284.2" y="433.9"/>
<use href="#m_dred" x="1289.9" y="442.9"/>
<use href="#m_dred" x="1295.6" y="453"/>
<use href="#m_dred" x="1301.2" y="464.6"/>
<use href="#m_dred" x="1306.9" y="478.3"/>
<use href="#m_dred" x="1312.6" y="494.5"/>
<use href="#m_dred" x="1318.3" y="513.5"/>
<use href="#m_dred" x="1322" y="530"/>
<use href="#m_dred" x="1327.7" y="549.5"/>
<use href="#m_dred" x="1333.5" y="580.5"/>
<use href="#m_dred" x="1339.1" y="632"/>
<use href="#m_dred" x="1345.9" y="744.5"/>
<use href="#m_dred" x="1351.2" y="794.7"/>
<use href="#m_dred" x="1356.5" y="672.1"/>
<use href="#m_dred" x="1362.9" y="594.3"/>
<use href="#m_dred" x="1369.5" y="549.6"/>
<use href="#m_dred" x="1375.2" y="515.4"/>
<use href="#m_dred" x="1380.9" y="486.8"/>
<use href="#m_dred" x="1386.5" y="466.5"/>
<use href="#m_dred" x="1392.2" y="452"/>
<use href="#m_dred" x="1397.9" y="437.8"/>
<use href="#m_dred" x="1403.6" y="424.3"/>
<use href="#m_dred" x="1409.3" y="411.7"/>
<use href="#m_dred" x="1415" y="400.1"/>
<use href="#m_dred" x="1420.7" y="389.3"/>
<use href="#m_dred" x="1426.3" y="379.5"/>
<use href="#m_dred" x="1432" y="370.4"/>
<use href="#m_dred" x="1437.7" y="362"/>
<use href="#m_dred" x="1443.4" y="354"/>
<use href="#m_dred" x="1449.1" y="346.6"/>
<use href="#m_dred" x="1454.8" y="339.5"/>
<use href="#m_dred" x="1460.5" y="332.7"/>
<use href="#m_dred" x="1466.1" y="326.2"/>
<use href="#m_dred" x="1471.8" y="320"/>
<use href="#m_dred" x="1477.5" y="314"/>
<use href="#m_dred" x="1483.2" y="308.2"/>
<use href="#m_dred" x="1488.9" y="302.6"/>
<use href="#m_dred" x="1494.6" y="297.1"/>
<use href="#m_dred" x="1500.3" y="291.9"/>
<use href="#m_dred" x="1505.9" y="286.7"/>
<use href="#m_dred" x="1511.6" y="281.7"/>
<use href="#m_dred" x="1517.3" y="276.8"/>
<use href="#m_dred" x="1523" y="272"/>
<use href="#m_dred" x="1528.7" y="267.2"/>
<use href="#m_dred" x="1534.4" y="262.6"/>
<use href="#m_dred" x="1540.1" y="258.1"/>
<use href="#m_dred" x="1545.7" y="253.7"/>
<use href="#m_dred" x="1551.4" y="249.4"/>
<use href="#m_dred" x="1557.1" y="245.2"/>
<use href="#m_dred" x="1562.8" y="241.1"/>
<use href="#m_dred" x="1568.5" y="237.1"/>
<use href="#m_dred" x="1574.2" y="233.3"/>
<use href="#m_dred" x="1579.9" y="229.5"/>
<use href="#m_dred" x="1585.6" y="225.9"/>
<use href="#m_dred" x="1591.2" y="222.5"/>
<use href="#m_dred" x="1596.9" y="219.1"/>
<use href="#m_dred" x="1602.6" y="215.9"/>
<use href="#m_dred" x="1608.3" y="212.7"/>
<use href="#m_dred" x="1614" y="209.8"/>
<use href="#m_dred" x="1619.7" y="206.9"/>
<use href="#m_dred" x="1625.4" y="204.1"/>
<use href="#m_dred" x="1631" y="201.5"/>
<use href="#m_dred" x="1636.7" y="199"/>
<use href="#m_dred" x="1642.4" y="196.5"/>
<use href="#m_dred" x="1648.1" y="194.2"/>
</g>
<g id="curve_blue">
<polyline fill="none" stroke="#0000ff" stroke-width="5.1" stroke-linejoin="round" stroke-linecap="round" points="685,209.1 690.7,204.4 696.4,205.6 702.1,206.8 707.8,208.1 713.4,209.3 719.1,210.6 724.8,211.9 730.5,213.2 736.2,214.5 741.9,215.9 747.6,217.2 753.3,218.6 758.9,220 764.6,221.4 770.3,222.9 776,224.3 781.7,225.8 787.4,227.3 793.1,228.8 798.8,230.3 804.4,231.9 810.1,233.4 815.8,235 821.5,236.6 827.2,238.3 832.9,239.9 838.6,241.6 844.3,243.3 850,245 855.6,246.7 861.3,248.5 867,250.3 872.7,252.1 878.4,253.9 884.1,255.7 889.8,257.6 895.5,259.5 901.1,261.4 906.8,263.3 912.5,265.3 918.2,267.3 923.9,269.3 929.6,271.3 935.3,273.4 941,275.4 946.6,277.5 952.3,279.7 958,281.8 963.7,284 969.4,286.2 975.1,288.4 980.8,290.6 986.5,292.9 992.1,295.2 997.8,297.5 1003.5,299.8 1009.2,302.2 1014.9,304.5 1020.6,306.9 1026.3,309.3 1032,311.8 1037.7,314.2 1043.3,316.7 1049,319.2 1054.7,321.7 1060.4,324.3 1066.1,326.8 1071.8,329.4 1077.5,332 1083.2,334.7 1088.8,337.4 1094.5,340.1 1100.2,342.8 1105.9,345.6 1111.6,348.3 1117.3,351.2 1123,354 1128.7,356.9 1134.3,359.9 1140,362.8 1145.7,365.8 1151.4,368.9 1157.1,372 1162.8,375.1 1168.5,378.3 1174.2,381.6 1179.9,384.9 1185.5,388.3 1191.2,391.7 1196.9,395.2 1202.6,398.8 1208.3,402.4 1214,406.1 1219.7,409.9 1225.4,413.9 1231,417.9 1236.7,422 1242.4,426.3 1248.1,430.7 1253.8,435.2 1259.5,439.9 1265.2,444.8 1270.9,449.9 1276.5,455.2 1282.2,460.7 1287.9,466.5 1293.6,472.5 1299.3,478.8 1305,485.5 1310.7,492.8 1316.4,500.9 1322.1,510.2 1327.7,521.4 1333.4,535.1 1339.1,550.9 1344.8,568.3 1349.8,584 1355.3,606.2 1361.4,637.6 1367,694.6 1372.6,755.1 1378.2,1039.2 1383.5,727.1 1389.5,673 1394.7,630 1400.4,592.5 1407.4,562.9 1413.1,542.2 1418.7,524 1424.4,507.6 1430.1,492.7 1435.8,479 1441.5,466.3 1447.2,454.5 1452.9,443.3 1458.6,432.8 1464.2,422.9 1469.9,413.5 1475.6,404.5 1481.3,395.9 1487,387.6 1492.7,379.7 1498.4,372 1504.1,364.6 1509.8,357.4 1515.4,350.4 1521.1,343.6 1526.8,337 1532.5,330.6 1538.2,324.3 1543.9,318.1 1549.6,312.1 1555.3,306.2 1560.9,300.4 1566.6,294.8 1572.3,289.2 1578,283.7 1583.7,278.4 1589.4,273.1 1595.1,267.9 1600.8,262.7 1606.4,257.7 1612.1,252.7 1617.8,247.8 1623.5,243 1629.2,238.2"/>
<use href="#m_blue" x="685" y="209.1"/>
<use href="#m_blue" x="690.7" y="204.4"/>
<use href="#m_blue" x="696.4" y="205.6"/>
<use href="#m_blue" x="702.1" y="206.8"/>
<use href="#m_blue" x="707.8" y="208.1"/>
<use href="#m_blue" x="713.4" y="209.3"/>
<use href="#m_blue" x="719.1" y="210.6"/>
<use href="#m_blue" x="724.8" y="211.9"/>
<use href="#m_blue" x="730.5" y="213.2"/>
<use href="#m_blue" x="736.2" y="214.5"/>
<use href="#m_blue" x="741.9" y="215.9"/>
<use href="#m_blue" x="747.6" y="217.2"/>
<use href="#m_blue" x="753.3" y="218.6"/>
<use href="#m_blue" x="758.9" y="220"/>
<use href="#m_blue" x="764.6" y="221.4"/>
<use href="#m_blue" x="770.3" y="222.9"/>
<use href="#m_blue" x="776" y="224.3"/>
<use href="#m_blue" x="781.7" y="225.8"/>
<use href="#m_blue" x="787.4" y="227.3"/>
<use href="#m_blue" x="793.1" y="228.8"/>
<use href="#m_blue" x="798.8" y="230.3"/>
<use href="#m_blue" x="804.4" y="231.9"/>
<use href="#m_blue" x="810.1" y="233.4"/>
<use href="#m_blue" x="815.8" y="235"/>
<use href="#m_blue" x="821.5" y="236.6"/>
<use href="#m_blue" x="827.2" y="238.3"/>
<use href="#m_blue" x="832.9" y="239.9"/>
<use href="#m_blue" x="838.6" y="241.6"/>
<use href="#m_blue" x="844.3" y="243.3"/>
<use href="#m_blue" x="850" y="245"/>
<use href="#m_blue" x="855.6" y="246.7"/>
<use href="#m_blue" x="861.3" y="248.5"/>
<use href="#m_blue" x="867" y="250.3"/>
<use href="#m_blue" x="872.7" y="252.1"/>
<use href="#m_blue" x="878.4" y="253.9"/>
<use href="#m_blue" x="884.1" y="255.7"/>
<use href="#m_blue" x="889.8" y="257.6"/>
<use href="#m_blue" x="895.5" y="259.5"/>
<use href="#m_blue" x="901.1" y="261.4"/>
<use href="#m_blue" x="906.8" y="263.3"/>
<use href="#m_blue" x="912.5" y="265.3"/>
<use href="#m_blue" x="918.2" y="267.3"/>
<use href="#m_blue" x="923.9" y="269.3"/>
<use href="#m_blue" x="929.6" y="271.3"/>
<use href="#m_blue" x="935.3" y="273.4"/>
<use href="#m_blue" x="941" y="275.4"/>
<use href="#m_blue" x="946.6" y="277.5"/>
<use href="#m_blue" x="952.3" y="279.7"/>
<use href="#m_blue" x="958" y="281.8"/>
<use href="#m_blue" x="963.7" y="284"/>
<use href="#m_blue" x="969.4" y="286.2"/>
<use href="#m_blue" x="975.1" y="288.4"/>
<use href="#m_blue" x="980.8" y="290.6"/>
<use href="#m_blue" x="986.5" y="292.9"/>
<use href="#m_blue" x="992.1" y="295.2"/>
<use href="#m_blue" x="997.8" y="297.5"/>
<use href="#m_blue" x="1003.5" y="299.8"/>
<use href="#m_blue" x="1009.2" y="302.2"/>
<use href="#m_blue" x="1014.9" y="304.5"/>
<use href="#m_blue" x="1020.6" y="306.9"/>
<use href="#m_blue" x="1026.3" y="309.3"/>
<use href="#m_blue" x="1032" y="311.8"/>
<use href="#m_blue" x="1037.7" y="314.2"/>
<use href="#m_blue" x="1043.3" y="316.7"/>
<use href="#m_blue" x="1049" y="319.2"/>
<use href="#m_blue" x="1054.7" y="321.7"/>
<use href="#m_blue" x="1060.4" y="324.3"/>
<use href="#m_blue" x="1066.1" y="326.8"/>
<use href="#m_blue" x="1071.8" y="329.4"/>
<use href="#m_blue" x="1077.5" y="332"/>
<use href="#m_blue" x="1083.2" y="334.7"/>
<use href="#m_blue" x="1088.8" y="337.4"/>
<use href="#m_blue" x="1094.5" y="340.1"/>
<use href="#m_blue" x="1100.2" y="342.8"/>
<use href="#m_blue" x="1105.9" y="345.6"/>
<use href="#m_blue" x="1111.6" y="348.3"/>
<use href="#m_blue" x="1117.3" y="351.2"/>
<use href="#m_blue" x="1123" y="354"/>
<use href="#m_blue" x="1128.7" y="356.9"/>
<use href="#m_blue" x="1134.3" y="359.9"/>
<use href="#m_blue" x="1140" y="362.8"/>
<use href="#m_blue" x="1145.7" y="365.8"/>
<use href="#m_blue" x="1151.4" y="368.9"/>
<use href="#m_blue" x="1157.1" y="372"/>
<use href="#m_blue" x="1162.8" y="375.1"/>
<use href="#m_blue" x="1168.5" y="378.3"/>
<use href="#m_blue" x="1174.2" y="381.6"/>
<use href="#m_blue" x="1179.9" y="384.9"/>
<use href="#m_blue" x="1185.5" y="388.3"/>
<use href="#m_blue" x="1191.2" y="391.7"/>
<use href="#m_blue" x="1196.9" y="395.2"/>
<use href="#m_blue" x="1202.6" y="398.8"/>
<use href="#m_blue" x="1208.3" y="402.4"/>
<use href="#m_blue" x="1214" y="406.1"/>
<use href="#m_blue" x="1219.7" y="409.9"/>
<use href="#m_blue" x="1225.4" y="413.9"/>
<use href="#m_blue" x="1231" y="417.9"/>
<use href="#m_blue" x="1236.7" y="422"/>
<use href="#m_blue" x="1242.4" y="426.3"/>
<use href="#m_blue" x="1248.1" y="430.7"/>
<use href="#m_blue" x="1253.8" y="435.2"/>
<use href="#m_blue" x="1259.5" y="439.9"/>
<use href="#m_blue" x="1265.2" y="444.8"/>
<use href="#m_blue" x="1270.9" y="449.9"/>
<use href="#m_blue" x="1276.5" y="455.2"/>
<use href="#m_blue" x="1282.2" y="460.7"/>
<use href="#m_blue" x="1287.9" y="466.5"/>
<use href="#m_blue" x="1293.6" y="472.5"/>
<use href="#m_blue" x="1299.3" y="478.8"/>
<use href="#m_blue" x="1305" y="485.5"/>
<use href="#m_blue" x="1310.7" y="492.8"/>
<use href="#m_blue" x="1316.4" y="500.9"/>
<use href="#m_blue" x="1322.1" y="510.2"/>
<use href="#m_blue" x="1327.7" y="521.4"/>
<use href="#m_blue" x="1333.4" y="535.1"/>
<use href="#m_blue" x="1339.1" y="550.9"/>
<use href="#m_blue" x="1344.8" y="568.3"/>
<use href="#m_blue" x="1349.8" y="584"/>
<use href="#m_blue" x="1355.3" y="606.2"/>
<use href="#m_blue" x="1361.4" y="637.6"/>
<use href="#m_blue" x="1367" y="694.6"/>
<use href="#m_blue" x="1372.6" y="755.1"/>
<use href="#m_blue" x="1378.2" y="1039.2"/>
<use href="#m_blue" x="1383.5" y="727.1"/>
<use href="#m_blue" x="1389.5" y="673"/>
<use href="#m_blue" x="1394.7" y="630"/>
<use href="#m_blue" x="1400.4" y="592.5"/>
<use href="#m_blue" x="1407.4" y="562.9"/>
<use href="#m_blue" x="1413.1" y="542.2"/>
<use href="#m_blue" x="1418.7" y="524"/>
<use href="#m_blue" x="1424.4" y="507.6"/>
<use href="#m_blue" x="1430.1" y="492.7"/>
<use href="#m_blue" x="1435.8" y="479"/>
<use href="#m_blue" x="1441.5" y="466.3"/>
<use href="#m_blue" x="1447.2" y="454.5"/>
<use href="#m_blue" x="1452.9" y="443.3"/>
<use href="#m_blue" x="1458.6" y="432.8"/>
<use href="#m_blue" x="1464.2" y="422.9"/>
<use href="#m_blue" x="1469.9" y="413.5"/>
<use href="#m_blue" x="1475.6" y="404.5"/>
<use href="#m_blue" x="1481.3" y="395.9"/>
<use href="#m_blue" x="1487" y="387.6"/>
<use href="#m_blue" x="1492.7" y="379.7"/>
<use href="#m_blue" x="1498.4" y="372"/>
<use href="#m_blue" x="1504.1" y="364.6"/>
<use href="#m_blue" x="1509.8" y="357.4"/>
<use href="#m_blue" x="1515.4" y="350.4"/>
<use href="#m_blue" x="1521.1" y="343.6"/>
<use href="#m_blue" x="1526.8" y="337"/>
<use href="#m_blue" x="1532.5" y="330.6"/>
<use href="#m_blue" x="1538.2" y="324.3"/>
<use href="#m_blue" x="1543.9" y="318.1"/>
<use href="#m_blue" x="1549.6" y="312.1"/>
<use href="#m_blue" x="1555.3" y="306.2"/>
<use href="#m_blue" x="1560.9" y="300.4"/>
<use href="#m_blue" x="1566.6" y="294.8"/>
<use href="#m_blue" x="1572.3" y="289.2"/>
<use href="#m_blue" x="1578" y="283.7"/>
<use href="#m_blue" x="1583.7" y="278.4"/>
<use href="#m_blue" x="1589.4" y="273.1"/>
<use href="#m_blue" x="1595.1" y="267.9"/>
<use href="#m_blue" x="1600.8" y="262.7"/>
<use href="#m_blue" x="1606.4" y="257.7"/>
<use href="#m_blue" x="1612.1" y="252.7"/>
<use href="#m_blue" x="1617.8" y="247.8"/>
<use href="#m_blue" x="1623.5" y="243"/>
<use href="#m_blue" x="1629.2" y="238.2"/>
</g>
<g stroke="#000" stroke-width="3.6" fill="none" stroke-linecap="butt">
<rect x="269.0" y="42.9" width="1513.3" height="1124.0"/>
<line x1="246.3" y1="42.9" x2="269.0" y2="42.9"/>
<line x1="257.9" y1="105.3" x2="269.0" y2="105.3"/>
<line x1="246.3" y1="167.8" x2="269.0" y2="167.8"/>
<line x1="257.9" y1="230.2" x2="269.0" y2="230.2"/>
<line x1="246.3" y1="292.7" x2="269.0" y2="292.7"/>
<line x1="257.9" y1="355.1" x2="269.0" y2="355.1"/>
<line x1="246.3" y1="417.6" x2="269.0" y2="417.6"/>
<line x1="257.9" y1="480" x2="269.0" y2="480"/>
<line x1="246.3" y1="542.5" x2="269.0" y2="542.5"/>
<line x1="257.9" y1="604.9" x2="269.0" y2="604.9"/>
<line x1="246.3" y1="667.4" x2="269.0" y2="667.4"/>
<line x1="257.9" y1="729.8" x2="269.0" y2="729.8"/>
<line x1="246.3" y1="792.2" x2="269.0" y2="792.2"/>
<line x1="257.9" y1="854.7" x2="269.0" y2="854.7"/>
<line x1="246.3" y1="917.1" x2="269.0" y2="917.1"/>
<line x1="257.9" y1="979.6" x2="269.0" y2="979.6"/>
<line x1="246.3" y1="1042" x2="269.0" y2="1042"/>
<line x1="257.9" y1="1104.5" x2="269.0" y2="1104.5"/>
<line x1="246.3" y1="1166.9" x2="269.0" y2="1166.9"/>
<line x1="269" y1="1166.9" x2="269" y2="1177.6"/>
<line x1="363.1" y1="1166.9" x2="363.1" y2="1187.6"/>
<line x1="457.6" y1="1166.9" x2="457.6" y2="1177.6"/>
<line x1="552.1" y1="1166.9" x2="552.1" y2="1187.6"/>
<line x1="646.6" y1="1166.9" x2="646.6" y2="1177.6"/>
<line x1="741.1" y1="1166.9" x2="741.1" y2="1187.6"/>
<line x1="835.6" y1="1166.9" x2="835.6" y2="1177.6"/>
<line x1="930.1" y1="1166.9" x2="930.1" y2="1187.6"/>
<line x1="1024.6" y1="1166.9" x2="1024.6" y2="1177.6"/>
<line x1="1119.1" y1="1166.9" x2="1119.1" y2="1187.6"/>
<line x1="1213.6" y1="1166.9" x2="1213.6" y2="1177.6"/>
<line x1="1308.1" y1="1166.9" x2="1308.1" y2="1187.6"/>
<line x1="1402.6" y1="1166.9" x2="1402.6" y2="1177.6"/>
<line x1="1497.1" y1="1166.9" x2="1497.1" y2="1187.6"/>
<line x1="1591.6" y1="1166.9" x2="1591.6" y2="1177.6"/>
<line x1="1686.1" y1="1166.9" x2="1686.1" y2="1187.6"/>
<line x1="1782.3" y1="1166.9" x2="1782.3" y2="1177.6"/>
</g>
<text x="230" y="63.3" font-size="62.1" text-anchor="end"><tspan font-weight="normal" textLength="41" lengthAdjust="spacingAndGlyphs">−</tspan><tspan dx="-4.4" textLength="81" lengthAdjust="spacingAndGlyphs">1.5</tspan></text>
<text x="230" y="188.2" font-size="62.1" text-anchor="end"><tspan font-weight="normal" textLength="41" lengthAdjust="spacingAndGlyphs">−</tspan><tspan dx="-4.4" textLength="81" lengthAdjust="spacingAndGlyphs">2.0</tspan></text>
<text x="230" y="313.1" font-size="62.1" text-anchor="end"><tspan font-weight="normal" textLength="41" lengthAdjust="spacingAndGlyphs">−</tspan><tspan dx="-4.4" textLength="81" lengthAdjust="spacingAndGlyphs">2.5</tspan></text>
<text x="230" y="438" font-size="62.1" text-anchor="end"><tspan font-weight="normal" textLength="41" lengthAdjust="spacingAndGlyphs">−</tspan><tspan dx="-4.4" textLength="81" lengthAdjust="spacingAndGlyphs">3.0</tspan></text>
<text x="230" y="562.9" font-size="62.1" text-anchor="end"><tspan font-weight="normal" textLength="41" lengthAdjust="spacingAndGlyphs">−</tspan><tspan dx="-4.4" textLength="81" lengthAdjust="spacingAndGlyphs">3.5</tspan></text>
<text x="230" y="687.8" font-size="62.1" text-anchor="end"><tspan font-weight="normal" textLength="41" lengthAdjust="spacingAndGlyphs">−</tspan><tspan dx="-4.4" textLength="81" lengthAdjust="spacingAndGlyphs">4.0</tspan></text>
<text x="230" y="812.6" font-size="62.1" text-anchor="end"><tspan font-weight="normal" textLength="41" lengthAdjust="spacingAndGlyphs">−</tspan><tspan dx="-4.4" textLength="81" lengthAdjust="spacingAndGlyphs">4.5</tspan></text>
<text x="230" y="937.5" font-size="62.1" text-anchor="end"><tspan font-weight="normal" textLength="41" lengthAdjust="spacingAndGlyphs">−</tspan><tspan dx="-4.4" textLength="81" lengthAdjust="spacingAndGlyphs">5.0</tspan></text>
<text x="230" y="1062.4" font-size="62.1" text-anchor="end"><tspan font-weight="normal" textLength="41" lengthAdjust="spacingAndGlyphs">−</tspan><tspan dx="-4.4" textLength="81" lengthAdjust="spacingAndGlyphs">5.5</tspan></text>
<text x="230" y="1187.3" font-size="62.1" text-anchor="end"><tspan font-weight="normal" textLength="41" lengthAdjust="spacingAndGlyphs">−</tspan><tspan dx="-4.4" textLength="81" lengthAdjust="spacingAndGlyphs">6.0</tspan></text>
<text x="362.9" y="1249.1" font-size="62.1" text-anchor="middle"><tspan font-weight="normal" textLength="41" lengthAdjust="spacingAndGlyphs">−</tspan><tspan dx="-4.4" textLength="81" lengthAdjust="spacingAndGlyphs">1.9</tspan></text>
<text x="551.9" y="1249.1" font-size="62.1" text-anchor="middle"><tspan font-weight="normal" textLength="41" lengthAdjust="spacingAndGlyphs">−</tspan><tspan dx="-4.4" textLength="81" lengthAdjust="spacingAndGlyphs">1.8</tspan></text>
<text x="740.9" y="1249.1" font-size="62.1" text-anchor="middle"><tspan font-weight="normal" textLength="41" lengthAdjust="spacingAndGlyphs">−</tspan><tspan dx="-4.4" textLength="81" lengthAdjust="spacingAndGlyphs">1.7</tspan></text>
<text x="929.9" y="1249.1" font-size="62.1" text-anchor="middle"><tspan font-weight="normal" textLength="41" lengthAdjust="spacingAndGlyphs">−</tspan><tspan dx="-4.4" textLength="81" lengthAdjust="spacingAndGlyphs">1.6</tspan></text>
<text x="1118.9" y="1249.1" font-size="62.1" text-anchor="middle"><tspan font-weight="normal" textLength="41" lengthAdjust="spacingAndGlyphs">−</tspan><tspan dx="-4.4" textLength="81" lengthAdjust="spacingAndGlyphs">1.5</tspan></text>
<text x="1307.9" y="1249.1" font-size="62.1" text-anchor="middle"><tspan font-weight="normal" textLength="41" lengthAdjust="spacingAndGlyphs">−</tspan><tspan dx="-4.4" textLength="81" lengthAdjust="spacingAndGlyphs">1.4</tspan></text>
<text x="1496.9" y="1249.1" font-size="62.1" text-anchor="middle"><tspan font-weight="normal" textLength="41" lengthAdjust="spacingAndGlyphs">−</tspan><tspan dx="-4.4" textLength="81" lengthAdjust="spacingAndGlyphs">1.3</tspan></text>
<text x="1685.9" y="1249.1" font-size="62.1" text-anchor="middle"><tspan font-weight="normal" textLength="41" lengthAdjust="spacingAndGlyphs">−</tspan><tspan dx="-4.4" textLength="81" lengthAdjust="spacingAndGlyphs">1.2</tspan></text>
<text transform="translate(1026.1,1356.6) scale(1.047,1)" font-size="72" text-anchor="middle">Potential / V</text>
<text transform="translate(83.8,796.4) rotate(-90)" font-size="74.2"><tspan textLength="309.7" lengthAdjust="spacingAndGlyphs">log(i,A·cm</tspan><tspan font-size="51.8" dx="-2.4" dy="-29.8" textLength="51.2" lengthAdjust="spacingAndGlyphs">−2</tspan><tspan dx="-1.8" dy="29.8" textLength="26.3" lengthAdjust="spacingAndGlyphs">)</tspan></text>
<line x1="370.4" y1="833.6" x2="473.1" y2="833.6" stroke="#f03e3e" stroke-width="5.6" stroke-linecap="round"/>
<use href="#l_red" x="421" y="833.6"/>
<text transform="translate(483.6,848.4) scale(1.145,1)" font-size="40.6">Bare Mg</text>
<line x1="370.4" y1="887.5" x2="473.1" y2="887.5" stroke="#515151" stroke-width="5.6" stroke-linecap="round"/>
<use href="#l_gray" x="421" y="887.5"/>
<text transform="translate(483.6,901) scale(1.115,1)" font-size="40.6">HA</text>
<line x1="370.4" y1="941.3" x2="473.1" y2="941.3" stroke="#0b8888" stroke-width="5.6" stroke-linecap="round"/>
<use href="#l_teal" x="421" y="941.3"/>
<text transform="translate(483.6,954.9) scale(1.125,1)" font-size="40.6">HN</text>
<line x1="370.4" y1="993.9" x2="473.1" y2="993.9" stroke="#880000" stroke-width="5.6" stroke-linecap="round"/>
<use href="#l_dred" x="421" y="993.9"/>
<text transform="translate(483.6,1008.3) scale(1.135,1)" font-size="40.6">HZ</text>
<line x1="370.4" y1="1047.8" x2="473.1" y2="1047.8" stroke="#0000ff" stroke-width="5.6" stroke-linecap="round"/>
<use href="#l_blue" x="421" y="1047.8"/>
<text transform="translate(483.6,1060.8) scale(1.125,1)" font-size="40.6">HN1Z1</text>
</svg></body></html>
